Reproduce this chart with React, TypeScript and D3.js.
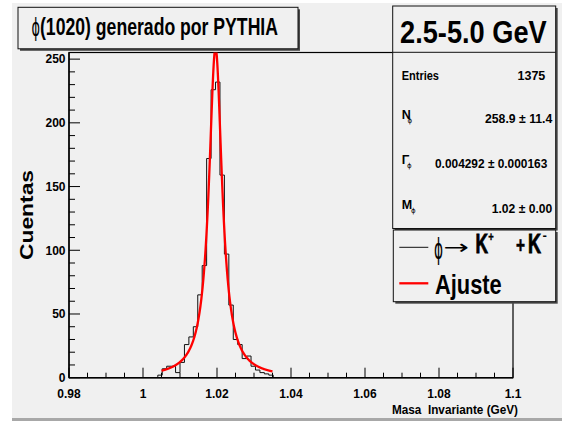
import React from 'react';
import * as d3 from 'd3';

const W = 562;
const H = 421;

// Histogram binning: 100 bins on [0.98, 1.10]
const histXLow = 0.98;
const histXHigh = 1.1;
const histBins = 100;
const firstFilledBin = 20;
// Counts for bins 20..45 (all other bins are empty)
const binCounts = [2, 7, 9, 9, 4, 12, 26, 32, 40, 65, 88, 172, 226, 232, 159, 97, 57, 30, 26, 15, 17, 9, 6, 4, 3, 2];

// Breit-Wigner fit results
const statEntries = 1375;
const fitN = [258.9, 11.4];
const fitGamma = [0.004292, 0.000163];
const fitMass = [1.0196, 0.00004];
const fitRange = [1.005, 1.035];

// Axis ticks
const xMajorTicks = [0.98, 1.0, 1.02, 1.04, 1.06, 1.08, 1.1];
const xTickLabels = ['0.98', '1', '1.02', '1.04', '1.06', '1.08', '1.1'];
const yMajorTicks = [0, 50, 100, 150, 200, 250];
const yTickLabels = ['0', '50', '100', '150', '200', '250'];

const FONT = "'Liberation Sans', Arial, Helvetica, sans-serif";
const SYMBOL_FONT = "'DejaVu Sans', sans-serif";

const frame = { left: 69, right: 513, top: 52.5, bottom: 377.7 };

function BoxWithShadow({ x, y, w, h }: { x: number; y: number; w: number; h: number }) {
  return (
    <g>
      <rect x={x + 2} y={y + 2} width={w} height={h} fill="#4a4a4a" />
      <rect x={x} y={y} width={w} height={h} fill="#f0f0f0" stroke="#111" strokeWidth={1} />
    </g>
  );
}

export default function App() {
  const yMax = (d3.max(binCounts) as number) * 1.1;
  const x = d3.scaleLinear().domain([histXLow, histXHigh]).range([frame.left, frame.right]);
  const y = d3.scaleLinear().domain([0, yMax]).range([frame.bottom, frame.top]);
  const binWidth = (histXHigh - histXLow) / histBins;

  // step outline of the histogram
  const pts: [number, number][] = [];
  binCounts.forEach((c, i) => {
    const lo = histXLow + (firstFilledBin + i) * binWidth;
    const hi = lo + binWidth;
    if (i === 0) pts.push([x(lo), y(0)]);
    pts.push([x(lo), y(c)]);
    pts.push([x(hi), y(c)]);
  });
  const lastHi = histXLow + (firstFilledBin + binCounts.length) * binWidth;
  pts.push([x(lastHi), y(0)]);
  const histPath = d3.line()(pts) as string;

  // Breit-Wigner curve
  const bw = (m: number) => {
    const g2 = (fitGamma[0] / 2) ** 2;
    return (fitN[0] * g2) / ((m - fitMass[0]) ** 2 + g2);
  };
  const curveX = d3.range(0, 401).map((i) => fitRange[0] + ((fitRange[1] - fitRange[0]) * i) / 400);
  const fitPath = d3
    .line<number>()
    .x((d) => x(d))
    .y((d) => y(bw(d)))(curveX) as string;

  const xMinor = d3.range(0, 25).map((i) => histXLow + i * 0.005).filter((v) => v <= histXHigh + 1e-9);
  const yMinor = d3.range(0, 26).map((i) => i * 10);

  return (
    <svg
      width={W}
      height={H}
      style={{ position: 'fixed', left: 0, top: 0, display: 'block' }}
      fontFamily={FONT}
    >
      <defs>
        <clipPath id="frameClip">
          <rect x={frame.left} y={frame.top} width={frame.right - frame.left} height={frame.bottom - frame.top} />
        </clipPath>
      </defs>
      <rect x={0} y={0} width={W} height={H} fill="#ffffff" />
      <rect x={12} y={3} width={W - 12} height={H - 3} fill="#f0f0f0" />
      <rect x={12} y={H - 3} width={W - 12} height={3} fill="#a8a8a8" />

      {/* frame */}
      <rect
        x={frame.left}
        y={frame.top}
        width={frame.right - frame.left}
        height={frame.bottom - frame.top}
        fill="#f0f0f0"
        stroke="#000"
        strokeWidth={1.2}
      />

      {/* histogram and fit */}
      <g clipPath="url(#frameClip)">
        <path d={histPath} fill="none" stroke="#111" strokeWidth={1} />
        <path d={fitPath} fill="none" stroke="#ff0000" strokeWidth={2.3} />
      </g>

      {/* axes */}
      <line x1={frame.left} x2={frame.right} y1={frame.bottom} y2={frame.bottom} stroke="#000" strokeWidth={1.6} />
      <line x1={frame.left} x2={frame.left} y1={frame.top} y2={frame.bottom} stroke="#000" strokeWidth={1.4} />
      {xMinor.map((v, i) => {
        const major = xMajorTicks.some((t) => Math.abs(t - v) < 1e-9);
        return (
          <line key={'xm' + i} x1={x(v)} x2={x(v)} y1={frame.bottom} y2={frame.bottom - (major ? 10 : 5)} stroke="#000" strokeWidth={1} />
        );
      })}
      {yMinor.map((v, i) => {
        const major = v % 50 === 0;
        return (
          <line key={'ym' + i} x1={frame.left} x2={frame.left + (major ? 11 : 6)} y1={y(v)} y2={y(v)} stroke="#000" strokeWidth={1} />
        );
      })}
      {xMajorTicks.map((v, i) => (
        <text key={'xl' + i} x={x(v)} y={397.5} textAnchor="middle" fontSize={12} fontWeight="bold">
          {xTickLabels[i]}
        </text>
      ))}
      {yMajorTicks.map((v, i) => (
        <text key={'yl' + i} x={65.5} y={y(v) + 4.3} textAnchor="end" fontSize={12} fontWeight="bold">
          {yTickLabels[i]}
        </text>
      ))}
      <text x={392} y={414} fontSize={12.5} fontWeight="bold" textLength={126} lengthAdjust="spacingAndGlyphs">
        {'Masa\u00a0 Invariante (GeV)'}
      </text>
      <text
        transform="translate(33,215) rotate(-90)"
        textAnchor="middle"
        fontSize={18.5}
        fontWeight="bold"
        textLength={90}
        lengthAdjust="spacingAndGlyphs"
      >
        Cuentas
      </text>

      {/* title */}
      <BoxWithShadow x={18} y={7.3} w={280} h={41.5} />
      <text x={31.5} y={36} fontSize={24} fontFamily={SYMBOL_FONT} textLength={8.5} lengthAdjust="spacingAndGlyphs">
        ϕ
      </text>
      <text x={40} y={35} fontSize={23} fontWeight="bold" textLength={238} lengthAdjust="spacingAndGlyphs">
        (1020) generado por PYTHIA
      </text>

      {/* statistics box */}
      <BoxWithShadow x={392.7} y={6} w={163} h={222.5} />
      <line x1={392.7} x2={555.7} y1={52.3} y2={52.3} stroke="#111" strokeWidth={1} />
      <text x={400} y={42.7} fontSize={31.5} fontWeight="bold" textLength={146.7} lengthAdjust="spacingAndGlyphs">
        2.5-5.0 GeV
      </text>
      <g fontSize={12.5} fontWeight="bold">
        <text x={401.7} y={79.5} textLength={37.3} lengthAdjust="spacingAndGlyphs">Entries</text>
        <text x={545.3} y={79.5} textAnchor="end">{String(statEntries)}</text>

        <text x={401.7} y={119}>N</text>
        <text x={407.5} y={123} fontSize={7} fontWeight="normal" fontFamily={SYMBOL_FONT}>ϕ</text>
        <text x={485} y={122.5} textLength={67.3} lengthAdjust="spacingAndGlyphs">
          {`${fitN[0].toFixed(1)} \u00b1 ${fitN[1].toFixed(1)}`}
        </text>

        <text x={401.7} y={164}>Γ</text>
        <text x={407} y={168} fontSize={7} fontWeight="normal" fontFamily={SYMBOL_FONT}>ϕ</text>
        <text x={435} y={167.5} textLength={112.3} lengthAdjust="spacingAndGlyphs">
          {`${fitGamma[0].toFixed(6)} \u00b1 ${fitGamma[1].toFixed(6)}`}
        </text>

        <text x={401.7} y={208.5}>M</text>
        <text x={411} y={212.5} fontSize={7} fontWeight="normal" fontFamily={SYMBOL_FONT}>ϕ</text>
        <text x={491.7} y={212.5} textLength={60.6} lengthAdjust="spacingAndGlyphs">
          {`${fitMass[0].toFixed(2)} \u00b1 ${fitMass[1].toFixed(2)}`}
        </text>
      </g>

      {/* legend */}
      <BoxWithShadow x={393.3} y={230} w={162.4} h={71.7} />
      <line x1={399.3} x2={428.3} y1={247.3} y2={247.3} stroke="#111" strokeWidth={1} />
      <text x={434} y={259} fontSize={28} fontFamily={SYMBOL_FONT} textLength={9} lengthAdjust="spacingAndGlyphs">ϕ</text>
      <text x={443.5} y={254} fontSize={20} fontFamily={SYMBOL_FONT} textLength={25.5} lengthAdjust="spacingAndGlyphs">→</text>
      <g fontWeight="bold">
        <text x={475.5} y={253.3} fontSize={27} textLength={12.5} lengthAdjust="spacingAndGlyphs" stroke="#000" strokeWidth={0.9}>K</text>
        <text x={488.2} y={241} fontSize={12} textLength={5.5} lengthAdjust="spacingAndGlyphs" stroke="#000" strokeWidth={0.4}>+</text>
        <text x={516} y={253} fontSize={22} textLength={9} lengthAdjust="spacingAndGlyphs" stroke="#000" strokeWidth={0.6}>+</text>
        <text x={528} y={253.3} fontSize={27} textLength={13} lengthAdjust="spacingAndGlyphs" stroke="#000" strokeWidth={0.9}>K</text>
        <text x={542.5} y={240} fontSize={13} textLength={4.4} lengthAdjust="spacingAndGlyphs">-</text>
        <text x={435} y={294} fontSize={27} textLength={66.7} lengthAdjust="spacingAndGlyphs">Ajuste</text>
      </g>
      <line x1={399.3} x2={428.3} y1={283.3} y2={283.3} stroke="#ff0000" strokeWidth={2.3} />
    </svg>
  );
}
